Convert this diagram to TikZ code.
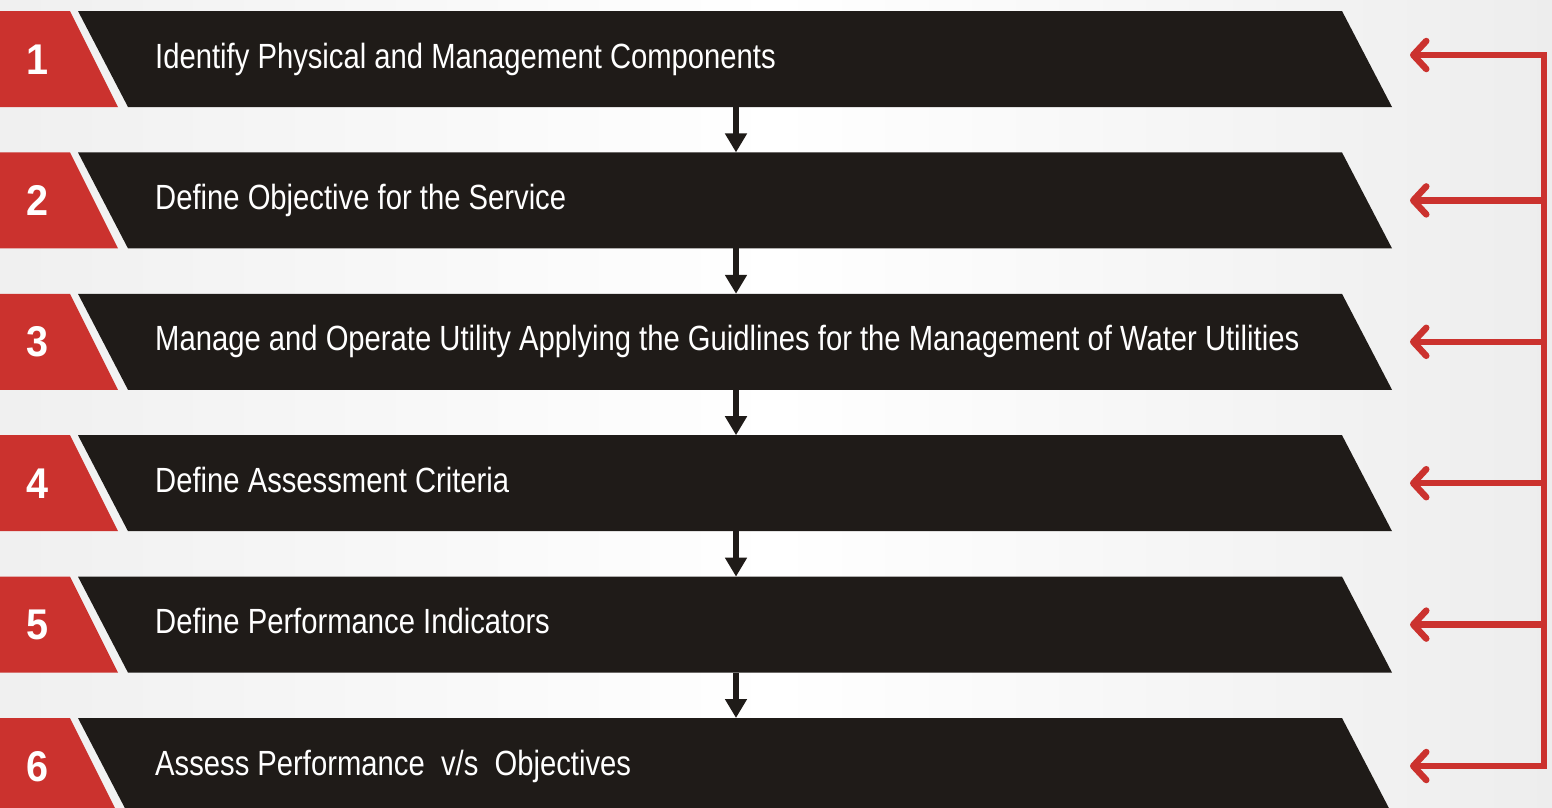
\documentclass[tikz,border=0pt]{standalone}
\usepackage{fontspec}
\setmainfont{Liberation Sans}
\newfontfamily\condfont[FakeStretch=0.835]{Liberation Sans}
\newfontfamily\numfont[FakeStretch=0.92]{Liberation Sans}
\usetikzlibrary{arrows.meta}
\definecolor{stepred}{RGB}{203,50,46}
\definecolor{stepblack}{RGB}{31,27,24}
\tikzset{
  redpart/.style={fill=stepred},
  blackpart/.style={fill=stepblack},
  steptext/.style={text=white, font=\condfont\fontsize{35}{40}\selectfont, inner sep=0pt, anchor=base west},
  stepnum/.style={text=white, font=\numfont\bfseries\fontsize{43}{46}\selectfont, inner sep=0pt, anchor=base},
  downarrow/.style={draw=stepblack, line width=6.5pt, -{Triangle[length=19pt,width=21pt]}},
  backarrow/.style={draw=stepred, line width=6.5pt, -{Straight Barb[length=13pt,width=28pt,round]}},
  backline/.style={draw=stepred, line width=6.5pt}
}
\begin{document}
\begin{tikzpicture}[x=1pt,y=-1pt]
\useasboundingbox (0,0) rectangle (1552,807);
\clip (0,0) rectangle (1552,807);
\shade[left color=gray!12, right color=gray!14, middle color=white] (0,0) rectangle (1552,807);
\foreach \i/\txt in {1/{Identify Physical and Management Components},
  2/{Define Objective for the Service},
  3/{Manage and Operate Utility Applying the Guidlines for the Management of Water Utilities},
  4/{Define Assessment Criteria},
  5/{Define Performance Indicators},
  6/{Assess Performance\ \ v/s\ \ Objectives}} {
  \pgfmathsetmacro\t{11+(\i-1)*141.4}
  \fill[redpart] (0,\t) -- (70,\t) -- (118,\t+96) -- (0,\t+96) -- cycle;
  \fill[blackpart] (78,\t) -- (1342,\t) -- (1392,\t+96) -- (128,\t+96) -- cycle;
  \node[stepnum] (n\i) at (38,\t+63) {\i};
  \node[steptext] (t\i) at (155,\t+57) {\txt};
  \coordinate (bot\i) at (736,\t+96);
  \coordinate (top\i) at (736,\t);
  \coordinate (tip\i) at (1410,\t+48);
  \coordinate (rail\i) at (1544,\t+48);
}
\coordinate (tip1) at (1410,55);
\coordinate (rail1) at (1544,55);
\foreach \i [evaluate=\i as \j using int(\i+1)] in {1,...,5} {
  \draw[downarrow] (bot\i) -- (top\j);
}
\draw[backline, line cap=rect] (rail1) -- (rail6);
\foreach \i in {1,...,6} {
  \draw[backarrow] (rail\i) -- (tip\i);
}
\end{tikzpicture}
\end{document}
